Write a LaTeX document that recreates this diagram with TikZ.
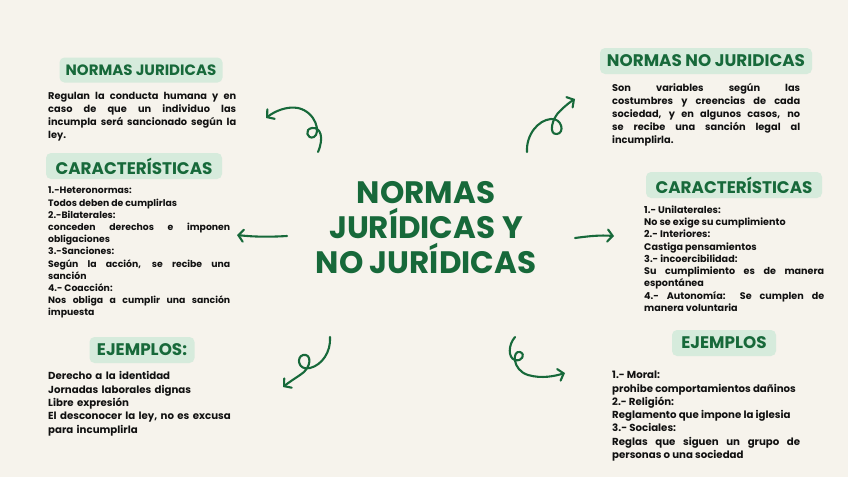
\documentclass[tikz,border=0pt]{standalone}
\usepackage{fontspec}
\setmainfont{Poppins}
\usetikzlibrary{arrows.meta}

\definecolor{paper}{HTML}{F6F3EC}
\definecolor{hdrfill}{HTML}{D6EBDC}
\definecolor{leaf}{HTML}{17693A}
\definecolor{ink}{HTML}{111111}

\begin{document}
\begin{tikzpicture}[
  x=1pt, y=-1pt,
  hdr/.style={fill=hdrfill, rounded corners=5pt, text=leaf, inner sep=0pt,
    minimum height=26pt, font=\bfseries\fontsize{16.8}{18}\selectfont},
  body/.style={anchor=north west, inner sep=0pt, text=ink, align=justify,
    font=\bfseries\fontsize{9.8}{13}\selectfont},
  plain/.style={body, align=left},
  curl/.style={draw=leaf, line width=2.1pt, line cap=round, line join=round,
    -{Straight Barb[length=5pt, width=12pt, line cap=round]}},
]
% background
\fill[paper] (0,0) rectangle (848,477);
\useasboundingbox (0,0) rectangle (848,477);

% centre title
\node[text=leaf, align=center, font=\bfseries\fontsize{31}{35}\selectfont] (title) at (426,228)
  {NORMAS\\JURÍDICAS Y\\NO JURÍDICAS};

% left side: normas juridicas
\node[hdr, minimum width=163pt, minimum height=25pt, font=\bfseries\fontsize{15}{17}\selectfont]
  (hjur) at (141,70) {NORMAS JURIDICAS};
\node[body, text width=188pt] (tjur) at (48,92.5)
  {Regulan la conducta humana y en\linebreak caso de que un individuo las\linebreak
   incumpla será sancionado según la\linebreak ley.};

\node[hdr, minimum width=176pt] (hcarl) at (134,166) {CARACTERÍSTICAS};
\node[body, text width=182pt, font=\bfseries\fontsize{9.3}{12.2}\selectfont] (tcarl) at (48,187)
  {1.-Heteronormas:\\ Todos deben de cumplirlas\\ 2.-Bilaterales:\\
   conceden derechos e imponen\linebreak obligaciones\\ 3.-Sanciones:\\
   Según la acción, se recibe una\linebreak sanción\\ 4.- Coacción:\\
   Nos obliga a cumplir una sanción\linebreak impuesta};

\node[hdr, minimum width=105pt] (hejl) at (142,350) {EJEMPLOS:};
\node[plain, text width=192pt, font=\bfseries\fontsize{10.2}{13.3}\selectfont] (tejl) at (48,371.5)
  {Derecho a la identidad\\ Jornadas laborales dignas\\ Libre expresión\\
   El desconocer la ley, no es excusa\\ para incumplirla};

% right side: normas no juridicas
\node[hdr, minimum width=212pt] (hnojur) at (706,61) {NORMAS NO JURIDICAS};
\node[body, text width=188pt] (tnojur) at (612,83)
  {Son variables según las\linebreak costumbres y creencias de cada\linebreak
   sociedad, y en algunos casos, no\linebreak se recibe una sanción legal al\linebreak incumplirla.};

\node[hdr, minimum width=176pt] (hcarr) at (734,185) {CARACTERÍSTICAS};
\node[body, text width=180pt, font=\bfseries\fontsize{9.6}{12.25}\selectfont] (tcarr) at (644,205.5)
  {1.- Unilaterales:\\ No se exige su cumplimiento\\ 2.- Interiores:\\ Castiga pensamientos\\
   3.- incoercibilidad:\\ Su cumplimiento es de manera\linebreak espontánea\\
   4.- Autonomía: Se cumplen de\linebreak manera voluntaria};

\node[hdr, minimum width=104pt] (hejr) at (724,343) {EJEMPLOS};
\node[body, text width=188pt, font=\bfseries\fontsize{10.2}{13.3}\selectfont] (tejr) at (612,371)
  {1.- Moral:\\ prohibe comportamientos dañinos\\ 2.- Religión:\\
   Reglamento que impone la iglesia\\ 3.- Sociales:\\
   Reglas que siguen un grupo de\linebreak personas o una sociedad};

% arrow ends
\coordinate (a1) at (318,152); \coordinate (b1) at (266,118);
\coordinate (a2) at (527,152); \coordinate (b2) at (575,99);
\coordinate (a3) at (287,236); \coordinate (b3) at (237,235);
\coordinate (a4) at (575,238); \coordinate (b4) at (614,236);
\coordinate (a5) at (330,337); \coordinate (b5) at (283,387);
\coordinate (a6) at (515,337); \coordinate (b6) at (565,373);

% curly arrows
\draw[curl] (a1) .. controls (324,138) and (321,127) .. (312,128)
  .. controls (304,129) and (307,140) .. (314,137)
  .. controls (321,133) and (316,112) .. (298,108)
  .. controls (287,106) and (275,111) .. (b1);
\draw[curl] (a2) .. controls (526,135) and (538,120) .. (551,119)
  .. controls (562,118) and (565,133) .. (557,134)
  .. controls (548,135) and (552,118) .. (560,111)
  .. controls (565,106) and (570,102) .. (b2);
\draw[curl] (a3) .. controls (270,237) and (255,237) .. (b3);
\draw[curl] (a4) .. controls (590,236) and (600,235) .. (b4);
\draw[curl] (a5) .. controls (331,352) and (322,365) .. (310,368)
  .. controls (298,371) and (296,357) .. (303,355)
  .. controls (312,353) and (312,368) .. (300,375)
  .. controls (294,379) and (288,383) .. (b5);
\draw[curl] (a6) .. controls (508,345) and (508,358) .. (515,360)
  .. controls (522,362) and (526,354) .. (520,352)
  .. controls (512,350) and (512,370) .. (528,375)
  .. controls (542,379) and (555,376) .. (b6);
\end{tikzpicture}
\end{document}
